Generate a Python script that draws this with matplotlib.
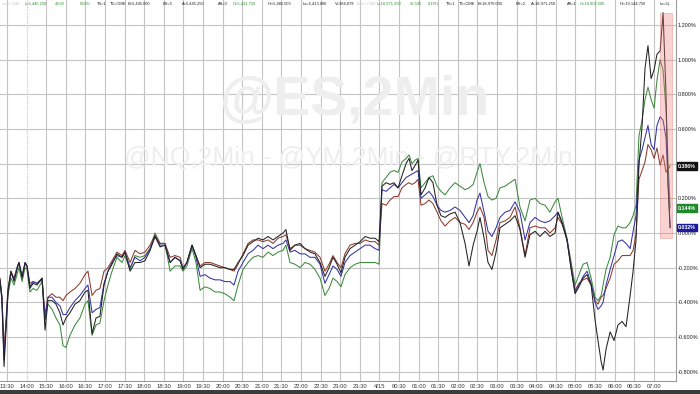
import numpy as np
import matplotlib
matplotlib.use("Agg")
from matplotlib import pyplot as plt
from matplotlib.patches import Rectangle

plt.rcParams["font.family"] = ["Liberation Sans", "DejaVu Sans"]

# time axis in 30-minute slots (0 = 13:30, session break folded out after 14:00)
t = [-0.36, -0.26, -0.15, -0.05, 0.05, 0.20, 0.36, 0.51, 0.61, 0.77, 0.92, 1.02, 1.17, 1.33, 1.53, 1.79,
     1.94, 2.09, 2.30, 2.50, 2.70, 2.86, 3.01, 3.21, 3.47, 3.72, 3.98, 4.13, 4.34, 4.54, 4.74, 4.95,
     5.15, 5.36, 5.61, 5.87, 6.02, 6.28, 6.53, 6.79, 7.04, 7.30, 7.55, 7.81, 8.06, 8.32, 8.57, 8.83,
     8.98, 9.18, 9.44, 9.64, 9.85, 10.10, 10.36, 10.61, 10.87, 11.12, 11.38, 11.58, 11.79, 12.04, 12.30, 12.55,
     12.81, 13.06, 13.32, 13.57, 13.83, 14.08, 14.23, 14.44, 14.69, 14.95, 15.20, 15.46, 15.71, 15.97, 16.22, 16.43,
     16.63, 16.84, 17.04, 17.24, 17.50, 17.76, 18.01, 18.27, 18.52, 18.78, 18.98, 19.13, 19.34, 19.54, 19.74, 19.95,
     20.15, 20.36, 20.51, 20.66, 20.82, 20.97, 21.12, 21.33, 21.53, 21.73, 21.94, 22.14, 22.35, 22.60, 22.86, 23.11,
     23.37, 23.57, 23.78, 23.98, 24.13, 24.34, 24.54, 24.74, 24.95, 25.15, 25.41, 25.66, 25.92, 26.17, 26.43, 26.68,
     26.94, 27.19, 27.45, 27.70, 27.96, 28.11, 28.32, 28.57, 28.78, 28.98, 29.18, 29.39, 29.59, 29.80, 30.00, 30.15,
     30.31, 30.41, 30.56, 30.77, 30.97, 31.17, 31.38, 31.58, 31.79, 31.94, 32.09, 32.24, 32.40, 32.55, 32.70, 32.86,
     33.01, 33.16, 33.32, 33.47, 33.62, 33.72, 33.83]

# % change series
es = [-0.27, -0.39, -0.77, -0.56, -0.34, -0.22, -0.28, -0.21, -0.17, -0.26, -0.17, -0.19, -0.32, -0.29, -0.30, -0.26,
      -0.56, -0.39, -0.39, -0.41, -0.46, -0.53, -0.49, -0.46, -0.41, -0.39, -0.34, -0.33, -0.58, -0.49, -0.48, -0.30,
      -0.22, -0.18, -0.12, -0.14, -0.11, -0.22, -0.17, -0.17, -0.16, -0.10, -0.02, -0.08, -0.07, -0.17, -0.14, -0.16,
      -0.21, -0.17, -0.07, -0.13, -0.20, -0.18, -0.18, -0.19, -0.20, -0.20, -0.21, -0.21, -0.17, -0.13, -0.07, -0.05,
      -0.03, -0.04, -0.02, -0.04, -0.02, 0.00, 0.02, -0.10, -0.07, -0.06, -0.09, -0.11, -0.12, -0.17, -0.25, -0.20,
      -0.14, -0.18, -0.23, -0.14, -0.09, -0.07, -0.05, -0.02, -0.03, -0.03, -0.05, 0.27, 0.29, 0.28, 0.29, 0.26,
      0.33, 0.40, 0.43, 0.36, 0.39, 0.42, 0.22, 0.26, 0.32, 0.29, 0.16, 0.10, 0.09, 0.11, 0.12, 0.06,
      -0.06, -0.19, -0.07, 0.01, 0.09, -0.03, -0.17, -0.21, -0.11, 0.03, 0.05, 0.07, 0.10, 0.02, -0.14, -0.01,
      0.01, -0.02, 0.01, -0.02, 0.00, 0.12, 0.06, -0.04, -0.21, -0.35, -0.31, -0.26, -0.24, -0.30, -0.50, -0.62,
      -0.74, -0.79, -0.67, -0.57, -0.62, -0.53, -0.51, -0.54, -0.36, -0.22, -0.04, 0.39, 0.62, 0.95, 1.08, 0.89,
      0.94, 1.03, 1.05, 1.27, 0.80, 0.28, 0.03]
nq = [-0.28, -0.37, -0.70, -0.53, -0.36, -0.26, -0.30, -0.24, -0.20, -0.28, -0.20, -0.21, -0.34, -0.32, -0.33, -0.28,
      -0.50, -0.41, -0.44, -0.49, -0.53, -0.65, -0.66, -0.59, -0.53, -0.49, -0.41, -0.39, -0.59, -0.53, -0.52, -0.39,
      -0.30, -0.22, -0.14, -0.17, -0.13, -0.21, -0.13, -0.14, -0.13, -0.09, 0.00, -0.06, -0.06, -0.22, -0.19, -0.19,
      -0.22, -0.19, -0.09, -0.17, -0.33, -0.31, -0.32, -0.34, -0.34, -0.35, -0.37, -0.39, -0.30, -0.21, -0.17, -0.14,
      -0.13, -0.14, -0.11, -0.13, -0.11, -0.10, -0.07, -0.17, -0.18, -0.20, -0.17, -0.18, -0.21, -0.26, -0.36, -0.32,
      -0.26, -0.28, -0.31, -0.24, -0.20, -0.18, -0.17, -0.17, -0.17, -0.17, -0.18, 0.29, 0.32, 0.35, 0.36, 0.35,
      0.41, 0.43, 0.45, 0.40, 0.42, 0.43, 0.26, 0.29, 0.32, 0.33, 0.27, 0.24, 0.22, 0.26, 0.29, 0.27,
      0.25, 0.26, 0.28, 0.35, 0.40, 0.29, 0.21, 0.19, 0.20, 0.26, 0.27, 0.29, 0.31, 0.15, 0.07, 0.19,
      0.20, 0.17, 0.16, 0.12, 0.18, 0.20, 0.09, -0.03, -0.17, -0.30, -0.24, -0.18, -0.17, -0.26, -0.37, -0.39,
      -0.36, -0.30, -0.21, -0.14, -0.01, 0.04, 0.03, 0.03, 0.06, 0.10, 0.16, 0.56, 0.65, 0.77, 0.84, 0.77,
      0.72, 0.88, 1.00, 0.94, 0.71, 0.42, 0.144]
ym = [-0.27, -0.37, -0.73, -0.53, -0.33, -0.23, -0.27, -0.20, -0.17, -0.25, -0.17, -0.19, -0.31, -0.28, -0.29, -0.26,
      -0.50, -0.37, -0.37, -0.40, -0.42, -0.47, -0.47, -0.43, -0.39, -0.36, -0.32, -0.30, -0.46, -0.44, -0.43, -0.29,
      -0.22, -0.17, -0.13, -0.14, -0.11, -0.20, -0.14, -0.16, -0.14, -0.09, -0.02, -0.07, -0.07, -0.17, -0.14, -0.16,
      -0.20, -0.17, -0.07, -0.14, -0.25, -0.24, -0.26, -0.27, -0.27, -0.28, -0.28, -0.30, -0.22, -0.17, -0.12, -0.10,
      -0.07, -0.09, -0.07, -0.09, -0.07, -0.06, -0.04, -0.11, -0.10, -0.12, -0.12, -0.14, -0.14, -0.18, -0.29, -0.24,
      -0.19, -0.21, -0.25, -0.17, -0.13, -0.11, -0.09, -0.07, -0.07, -0.09, -0.10, 0.25, 0.24, 0.26, 0.28, 0.26,
      0.29, 0.32, 0.33, 0.34, 0.35, 0.36, 0.20, 0.22, 0.24, 0.21, 0.16, 0.13, 0.12, 0.13, 0.15, 0.13,
      0.09, 0.06, 0.10, 0.19, 0.23, 0.12, 0.01, -0.02, 0.03, 0.09, 0.12, 0.13, 0.18, 0.12, -0.04, 0.06,
      0.09, 0.07, 0.06, 0.07, 0.10, 0.12, 0.06, -0.04, -0.20, -0.34, -0.30, -0.25, -0.22, -0.29, -0.40, -0.44,
      -0.42, -0.40, -0.30, -0.21, -0.13, -0.05, -0.04, -0.06, -0.09, 0.01, 0.10, 0.42, 0.48, 0.55, 0.62, 0.51,
      0.48, 0.62, 0.67, 0.65, 0.55, 0.31, 0.032]
rty = [-0.26, -0.36, -0.67, -0.50, -0.32, -0.22, -0.26, -0.20, -0.17, -0.25, -0.18, -0.19, -0.29, -0.28, -0.29, -0.27,
       -0.47, -0.37, -0.35, -0.37, -0.37, -0.39, -0.36, -0.34, -0.32, -0.29, -0.24, -0.22, -0.36, -0.33, -0.32, -0.22,
       -0.20, -0.16, -0.11, -0.13, -0.10, -0.17, -0.10, -0.12, -0.11, -0.07, -0.01, -0.06, -0.06, -0.14, -0.13, -0.14,
       -0.20, -0.17, -0.07, -0.13, -0.19, -0.17, -0.17, -0.18, -0.19, -0.20, -0.21, -0.22, -0.18, -0.12, -0.06, -0.04,
       -0.04, -0.05, -0.04, -0.06, -0.03, -0.02, -0.01, -0.09, -0.07, -0.07, -0.09, -0.10, -0.11, -0.14, -0.22, -0.18,
       -0.13, -0.17, -0.20, -0.12, -0.07, -0.06, -0.06, -0.04, -0.05, -0.05, -0.07, 0.17, 0.16, 0.19, 0.21, 0.21,
       0.26, 0.28, 0.29, 0.28, 0.29, 0.31, 0.16, 0.17, 0.19, 0.17, 0.12, 0.07, 0.04, 0.07, 0.09, 0.06,
       0.05, 0.02, 0.06, 0.12, 0.15, 0.09, -0.10, -0.13, -0.04, 0.06, 0.07, 0.09, 0.15, 0.03, -0.13, 0.03,
       0.04, 0.03, 0.03, 0.00, 0.03, 0.09, 0.05, -0.04, -0.19, -0.33, -0.29, -0.27, -0.26, -0.30, -0.39, -0.41,
       -0.37, -0.36, -0.32, -0.26, -0.18, -0.16, -0.13, -0.13, -0.13, -0.10, -0.01, 0.31, 0.36, 0.41, 0.51, 0.48,
       0.43, 0.49, 0.39, 0.45, 0.35, 0.37, 0.386]

tick_labels = ["13:30", "14:00", "15:30", "16:00", "16:30", "17:00", "17:30", "18:00", "18:30", "19:00",
               "19:30", "20:00", "20:30", "21:00", "21:30", "22:00", "22:30", "23:00", "23:30", "4/15",
               "00:30", "01:00", "01:30", "02:00", "02:30", "03:00", "03:30", "04:00", "04:30", "05:00",
               "05:30", "06:00", "06:30", "07:00"]
y_ticks = [-0.8, -0.6, -0.4, -0.2, 0.0, 0.2, 0.4, 0.6, 0.8, 1.0, 1.2]
last_tags = [(0.386, "0.386%", "#111111"), (0.144, "0.144%", "#1f8a2a"), (0.032, "0.032%", "#1c1c96")]

W, H = 700, 394
fig = plt.figure(figsize=(W / 100, H / 100), dpi=100)
fig.patch.set_facecolor("white")
ax = fig.add_axes([0, 13 / H, 676 / W, 381 / H])
ax.set_facecolor("white")

ax.set_xlim(-0.357, 34.13)
ax.set_ylim(-0.853, 1.343)

grid_c = "#c4c4c4"
for i in range(len(tick_labels)):
    ax.axvline(i, color=grid_c, lw=0.8, ls=(0, (1, 1)) if i == 1 else "-", zorder=0)
for v in y_ticks:
    ax.axhline(v, color=grid_c, lw=0.8, zorder=0)

# watermark
ax.text(0.525, 0.735, "@ES,2Min", transform=ax.transAxes, ha="center", va="center",
        fontsize=40, fontweight="bold", color="#eeeeee", zorder=0.5)
ax.text(0.515, 0.585, "@NQ,2Min - @YM,2Min - @RTY,2Min", transform=ax.transAxes, ha="center",
        va="center", fontsize=19, color="#eeeeee", zorder=0.5)

ax.plot(t, nq, color="#3d8a3d", lw=0.75, zorder=2)
ax.plot(t, rty, color="#8c3b2c", lw=0.75, zorder=2)
ax.plot(t, ym, color="#3434a4", lw=0.75, zorder=3)
ax.plot(t, es, color="#222222", lw=0.75, zorder=4)

# highlighted final move
ax.add_patch(Rectangle((33.32, -0.03), 0.61, 1.30, facecolor="#f08080", edgecolor="#e06060",
                       lw=0.6, alpha=0.35, zorder=5))

# the 0.400% label sits under the last-value tag, as in the source
tag_vals = [v for v, _, _ in last_tags]
ax.set_xticks(range(len(tick_labels)))
ax.set_xticklabels(tick_labels)
ax.set_yticks(y_ticks)
ax.set_yticklabels(["" if any(abs(v - tv) < 0.03 for tv in tag_vals) else f"{v:.3f}%" for v in y_ticks])
ax.yaxis.tick_right()
ax.tick_params(axis="x", length=0, labelsize=4.2, colors="#333333", pad=2)
ax.tick_params(axis="y", length=0, labelsize=4.0, colors="#222222", pad=1.5)
for s in ["left", "top"]:
    ax.spines[s].set_visible(False)
ax.spines["right"].set_color("#9a9a9a")
ax.spines["bottom"].set_color("#9a9a9a")
ax.spines["right"].set_linewidth(0.8)
ax.spines["bottom"].set_linewidth(0.8)

for v, txt, c in last_tags:
    ax.annotate(txt, xy=(1.0, v), xycoords=("axes fraction", "data"), xytext=(1.5, 0),
                textcoords="offset points", ha="left", va="center", fontsize=3.8,
                fontweight="bold", color="white",
                bbox=dict(boxstyle="square,pad=0.2", fc=c, ec=c), zorder=10, annotation_clip=False)

# quote header
hdr_y = 1 - 4 / H
grey, green, black = "#c8c8c8", "#2f8f2f", "#222222"
header = [
    (2, "mini CME", grey), (25, "L=5,445.250", green), (55, "4.500", green), (80, "0.08%", green),
    (97, "TS=1", black), (110, "TE=CME", black), (128, "B=5,445.000", black), (163, "BS=5", black),
    (182, "A=5,445.250", black), (218, "AS=0", black), (233, "O=5,431.750", green),
    (268, "Hi=5,485.000", black), (303, "Lo=5,413.000", black), (335, "V=384,079", black),
    (357, "2min CME", grey), (377, "L=18,971.250", green), (410, "35.500", green), (428, "0.19%", green),
    (446, "TS=1", black), (459, "TE=CME", black), (478, "B=18,970.000", black), (516, "BS=2", black),
    (531, "A=18,971.250", black), (567, "AS=1", black), (580, "O=18,902.500", green),
    (620, "Hi=19,144.750", black), (660, "Lo=1(...", black),
]
for x, s, c in header:
    fig.text(x / W, hdr_y, s, fontsize=2.9, color=c, ha="left", va="center")

# bottom scroll bar
fig.patches.append(Rectangle((0, 0), 1, 4 / H, transform=fig.transFigure, facecolor="#3c3c3c",
                             edgecolor="none", zorder=0))

fig.savefig("out.png", dpi=100)
